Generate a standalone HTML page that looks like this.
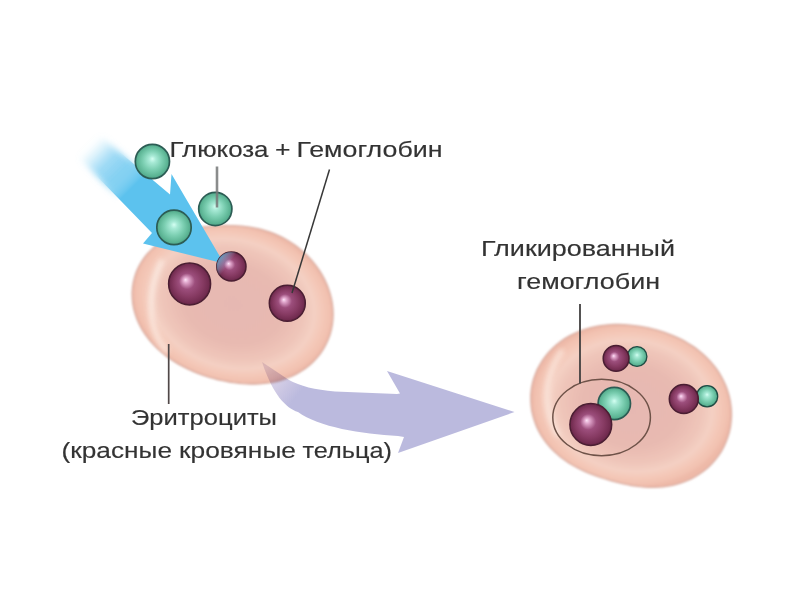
<!DOCTYPE html>
<html><head><meta charset="utf-8">
<style>
html,body{margin:0;padding:0;background:#fff;width:800px;height:600px;overflow:hidden}
svg{display:block}
text{font-family:"Liberation Sans",sans-serif;fill:#333;stroke:#333;stroke-width:0.15px}
</style></head>
<body>
<svg width="800" height="600" viewBox="0 0 800 600">
<defs>
  <radialGradient id="cellGL" gradientUnits="userSpaceOnUse" cx="0" cy="0" r="1" gradientTransform="translate(233.1 303.8) rotate(15.5) scale(102 78.6)">
    <stop offset="0" stop-color="#e6b8b2"/>
    <stop offset="0.5" stop-color="#e8bab1"/>
    <stop offset="0.7" stop-color="#efc5b9"/>
    <stop offset="0.81" stop-color="#f4d0c3"/>
    <stop offset="0.89" stop-color="#f4c8b8"/>
    <stop offset="0.96" stop-color="#f2c1b0"/>
    <stop offset="1" stop-color="#eeb9a8"/>
  </radialGradient>
  <radialGradient id="cellGR" gradientUnits="userSpaceOnUse" cx="0" cy="0" r="1" gradientTransform="translate(631.5 405.7) rotate(8.3) scale(100 81)">
    <stop offset="0" stop-color="#e6b8b2"/>
    <stop offset="0.5" stop-color="#e8bab1"/>
    <stop offset="0.7" stop-color="#efc5b9"/>
    <stop offset="0.81" stop-color="#f4d0c3"/>
    <stop offset="0.89" stop-color="#f4c8b8"/>
    <stop offset="0.96" stop-color="#f2c1b0"/>
    <stop offset="1" stop-color="#eeb9a8"/>
  </radialGradient>
  <radialGradient id="purG" cx="0.5" cy="0.5" r="0.5" fx="0.4" fy="0.4">
    <stop offset="0" stop-color="#fce2f6"/>
    <stop offset="0.13" stop-color="#e0a6cc"/>
    <stop offset="0.38" stop-color="#9c4e7c"/>
    <stop offset="0.7" stop-color="#863a62"/>
    <stop offset="0.92" stop-color="#722c50"/>
    <stop offset="1" stop-color="#602242"/>
  </radialGradient>
  <radialGradient id="grnG" cx="0.5" cy="0.5" r="0.5" fx="0.5" fy="0.42">
    <stop offset="0" stop-color="#d4fff2"/>
    <stop offset="0.2" stop-color="#a8ead6"/>
    <stop offset="0.55" stop-color="#7ccfb2"/>
    <stop offset="0.85" stop-color="#5eb696"/>
    <stop offset="1" stop-color="#4ea688"/>
  </radialGradient>
  <linearGradient id="blueFade" gradientUnits="userSpaceOnUse" x1="118" y1="118" x2="146" y2="146">
    <stop offset="0" stop-color="#a0dcf5" stop-opacity="0"/>
    <stop offset="0.45" stop-color="#7ccdf2" stop-opacity="0.55"/>
    <stop offset="1" stop-color="#5cc2ee" stop-opacity="1"/>
  </linearGradient>
  <linearGradient id="lavG" gradientUnits="userSpaceOnUse" x1="262" y1="362" x2="300" y2="392">
    <stop offset="0" stop-color="#c8b8d8" stop-opacity="0.4"/>
    <stop offset="1" stop-color="#bbbade" stop-opacity="1"/>
  </linearGradient>
  <linearGradient id="tipG" gradientUnits="userSpaceOnUse" x1="218" y1="256" x2="229" y2="264">
    <stop offset="0" stop-color="#5cc8f4" stop-opacity="0.85"/>
    <stop offset="0.5" stop-color="#80c8e8" stop-opacity="0.45"/>
    <stop offset="1" stop-color="#a0c8e8" stop-opacity="0"/>
  </linearGradient>
  <filter id="blurB" x="-20%" y="-20%" width="140%" height="140%"><feGaussianBlur stdDeviation="3"/></filter>
  <linearGradient id="mgF" gradientUnits="userSpaceOnUse" x1="135" y1="135" x2="160" y2="160">
    <stop offset="0" stop-color="#fff" stop-opacity="0"/><stop offset="1" stop-color="#fff" stop-opacity="1"/>
  </linearGradient>
  <linearGradient id="mgB" gradientUnits="userSpaceOnUse" x1="135" y1="135" x2="160" y2="160">
    <stop offset="0" stop-color="#fff" stop-opacity="1"/><stop offset="1" stop-color="#fff" stop-opacity="0"/>
  </linearGradient>
  <mask id="mFront" maskUnits="userSpaceOnUse" x="0" y="0" width="800" height="600"><rect width="800" height="600" fill="url(#mgF)"/></mask>
  <mask id="mBack" maskUnits="userSpaceOnUse" x="0" y="0" width="800" height="600"><rect width="800" height="600" fill="url(#mgB)"/></mask>
  <filter id="blurS" x="-50%" y="-20%" width="200%" height="140%"><feGaussianBlur stdDeviation="2.4"/></filter>
  <filter id="soft" x="-10%" y="-10%" width="120%" height="120%"><feGaussianBlur stdDeviation="0.9"/></filter>
  <filter id="soft2" x="-10%" y="-10%" width="120%" height="120%"><feGaussianBlur stdDeviation="0.5"/></filter>
</defs>
<rect width="800" height="600" fill="#fff"/>

<!-- left cell -->
<path d="M132.8 303.7 L132.3 298.4 L132.1 293.1 L132.5 287.7 L133.3 282.4 L134.6 277.2 L136.3 272.1 L138.4 267.2 L141.0 262.5 L143.9 258.1 L147.2 253.9 L150.9 250.1 L154.7 246.5 L158.8 243.3 L163.1 240.4 L167.6 237.8 L172.1 235.5 L176.7 233.5 L181.3 231.9 L185.9 230.4 L190.5 229.2 L195.1 228.3 L199.6 227.5 L204.0 226.8 L208.4 226.4 L212.7 226.0 L216.9 225.7 L221.1 225.6 L225.3 225.5 L229.4 225.6 L233.5 225.7 L237.6 225.9 L241.7 226.2 L245.7 226.7 L249.8 227.2 L253.8 227.9 L257.9 228.7 L261.9 229.7 L266.0 230.9 L270.0 232.2 L274.0 233.7 L277.9 235.4 L281.8 237.2 L285.7 239.3 L289.5 241.5 L293.3 244.0 L296.9 246.6 L300.5 249.5 L304.0 252.5 L307.4 255.8 L310.7 259.2 L313.8 262.8 L316.7 266.7 L319.5 270.7 L322.1 274.9 L324.5 279.4 L326.7 283.9 L328.5 288.7 L330.1 293.6 L331.4 298.6 L332.3 303.7 L332.9 308.9 L333.1 314.2 L332.9 319.5 L332.3 324.7 L331.3 329.9 L329.9 335.0 L328.0 340.0 L325.8 344.8 L323.2 349.4 L320.2 353.8 L316.9 357.9 L313.3 361.7 L309.5 365.2 L305.4 368.4 L301.1 371.3 L296.7 373.9 L292.1 376.1 L287.5 378.0 L282.8 379.7 L278.1 381.0 L273.4 382.1 L268.8 382.9 L264.1 383.4 L259.5 383.8 L255.0 384.0 L250.6 384.0 L246.2 383.8 L241.9 383.6 L237.7 383.1 L233.5 382.6 L229.4 382.0 L225.4 381.2 L221.4 380.4 L217.4 379.5 L213.5 378.4 L209.6 377.3 L205.7 376.1 L201.9 374.8 L198.0 373.4 L194.2 371.8 L190.4 370.2 L186.6 368.4 L182.8 366.4 L178.9 364.4 L175.2 362.1 L171.4 359.7 L167.7 357.1 L164.0 354.3 L160.4 351.3 L156.8 348.0 L153.4 344.6 L150.1 340.9 L147.0 336.9 L144.1 332.8 L141.4 328.4 L139.0 323.8 L136.9 319.0 L135.2 314.1 L133.8 309.0 Z" fill="url(#cellGL)" stroke="#d8ab9f" stroke-width="1.3" filter="url(#soft)"/>
<!-- right cell -->
<path d="M531.1 405.6 L530.8 400.3 L530.8 395.0 L531.3 389.7 L532.2 384.4 L533.5 379.3 L535.3 374.2 L537.3 369.4 L539.8 364.7 L542.6 360.2 L545.7 355.9 L549.0 351.9 L552.7 348.2 L556.5 344.7 L560.6 341.5 L564.8 338.6 L569.1 336.1 L573.6 333.8 L578.1 331.8 L582.7 330.0 L587.3 328.6 L591.9 327.4 L596.5 326.4 L601.1 325.6 L605.6 325.1 L610.1 324.7 L614.5 324.5 L618.9 324.5 L623.2 324.6 L627.5 324.9 L631.8 325.3 L635.9 325.8 L640.1 326.4 L644.2 327.1 L648.3 327.9 L652.3 328.9 L656.3 329.9 L660.4 331.1 L664.4 332.4 L668.3 333.8 L672.3 335.4 L676.3 337.1 L680.2 338.9 L684.1 340.9 L688.0 343.2 L691.8 345.6 L695.6 348.1 L699.2 350.9 L702.8 354.0 L706.3 357.2 L709.7 360.6 L712.9 364.3 L715.9 368.1 L718.7 372.2 L721.3 376.5 L723.6 381.0 L725.7 385.6 L727.5 390.4 L729.0 395.4 L730.1 400.4 L730.9 405.6 L731.4 410.8 L731.5 416.1 L731.1 421.3 L730.5 426.6 L729.4 431.8 L727.9 436.8 L726.1 441.8 L723.9 446.6 L721.4 451.3 L718.5 455.7 L715.3 459.8 L711.8 463.8 L708.1 467.4 L704.1 470.7 L699.9 473.8 L695.6 476.5 L691.1 478.9 L686.5 481.0 L681.9 482.7 L677.1 484.2 L672.4 485.4 L667.7 486.2 L662.9 486.9 L658.3 487.2 L653.7 487.4 L649.1 487.3 L644.7 487.1 L640.3 486.7 L636.0 486.1 L631.8 485.5 L627.6 484.7 L623.5 483.8 L619.5 482.9 L615.5 481.9 L611.6 480.8 L607.7 479.7 L603.8 478.5 L599.9 477.2 L596.0 475.8 L592.1 474.4 L588.1 472.8 L584.2 471.1 L580.2 469.2 L576.3 467.2 L572.3 465.0 L568.4 462.6 L564.6 460.0 L560.8 457.2 L557.1 454.1 L553.5 450.8 L550.1 447.2 L546.8 443.4 L543.8 439.4 L541.0 435.1 L538.5 430.6 L536.3 425.9 L534.5 421.0 L533.0 416.0 L531.8 410.8 Z" fill="url(#cellGR)" stroke="#d8ab9f" stroke-width="1.3" filter="url(#soft)"/>

<path d="M161 262 Q148 290 152 320 Q155 338 166 350" fill="none" stroke="#fff8f2" stroke-width="6" stroke-linecap="round" opacity="0.55" filter="url(#blurS)"/>
<path d="M561 352 Q545 376 547 402 Q549 420 557 434" fill="none" stroke="#fff8f2" stroke-width="6" stroke-linecap="round" opacity="0.5" filter="url(#blurS)"/>

<!-- lavender arrow -->
<path d="M262 362 L289 380 Q305 389 335 391.5 L397 394 L400 393.5 L387 371 L514.5 412 L398 453 L404 437 L398 436 C362 434 318 427 298 412 C286 408 273 395 262 362 Z" fill="url(#lavG)" style="mix-blend-mode:multiply" filter="url(#soft2)"/>

<!-- blue arrow -->
<path d="M56 134 L84 122 L170 194.5 L171.5 174 L224 263.5 L143 243.5 L152 233 Z" fill="url(#blueFade)" filter="url(#blurB)" mask="url(#mBack)"/>
<path d="M56 134 L84 122 L170 194.5 L171.5 174 L224 263.5 L143 243.5 L152 233 Z" fill="url(#blueFade)" filter="url(#soft2)" mask="url(#mFront)"/>

<!-- left balls -->
<circle cx="189.6" cy="283.9" r="21" fill="url(#purG)" stroke="#4a1e32" stroke-width="1.5"/>
<circle cx="231.4" cy="266.5" r="14.6" fill="url(#purG)" stroke="#4a1e32" stroke-width="1.5"/>
<circle cx="231.4" cy="266.5" r="14.6" fill="url(#tipG)"/>
<circle cx="287.3" cy="303.2" r="18" fill="url(#purG)" stroke="#4a1e32" stroke-width="1.5"/>
<circle cx="152.4" cy="161.5" r="17.1" fill="url(#grnG)" stroke="#2c5c54" stroke-width="1.7"/>
<circle cx="215.3" cy="209" r="16.6" fill="url(#grnG)" stroke="#2c5c54" stroke-width="1.7"/>
<circle cx="174" cy="227.4" r="17.2" fill="url(#grnG)" stroke="#2c5c54" stroke-width="1.7"/>

<!-- right balls -->
<ellipse cx="601.6" cy="417.5" rx="48.8" ry="38.2" fill="none" stroke="#6e5248" stroke-width="1.5"/>
<circle cx="614.3" cy="403.5" r="16.2" fill="url(#grnG)" stroke="#2c5c54" stroke-width="1.7"/>
<circle cx="590.8" cy="424.5" r="20.9" fill="url(#purG)" stroke="#4a1e32" stroke-width="1.5"/>
<circle cx="637" cy="356.5" r="9.9" fill="url(#grnG)" stroke="#1f4c44" stroke-width="1.3"/>
<circle cx="616.1" cy="358.4" r="12.9" fill="url(#purG)" stroke="#4a1e32" stroke-width="1.5"/>
<circle cx="707.1" cy="396.2" r="10.6" fill="url(#grnG)" stroke="#1f4c44" stroke-width="1.3"/>
<circle cx="683.8" cy="399" r="14.5" fill="url(#purG)" stroke="#4a1e32" stroke-width="1.5"/>

<!-- leader lines -->
<line x1="217" y1="166.5" x2="217" y2="207.5" stroke="#767878" stroke-width="2.6" opacity="0.85"/>
<line x1="329.5" y1="169.5" x2="292" y2="293" stroke="#383838" stroke-width="1.5"/>
<line x1="168.7" y1="344" x2="168.7" y2="404" stroke="#504848" stroke-width="1.7"/>
<line x1="580" y1="304" x2="580" y2="383.5" stroke="#424040" stroke-width="1.8"/>

<!-- text -->
<text x="169.5" y="157" font-size="22" textLength="99" lengthAdjust="spacingAndGlyphs">Глюкоза</text>
<text x="275" y="157" font-size="22" textLength="15.5" lengthAdjust="spacingAndGlyphs">+</text>
<text x="296.5" y="157" font-size="22" textLength="146" lengthAdjust="spacingAndGlyphs">Гемоглобин</text>
<text x="481" y="256" font-size="22" textLength="194" lengthAdjust="spacingAndGlyphs">Гликированный</text>
<text x="517" y="289" font-size="22" textLength="143" lengthAdjust="spacingAndGlyphs">гемоглобин</text>
<text x="131" y="425" font-size="22.5" textLength="146" lengthAdjust="spacingAndGlyphs">Эритроциты</text>
<text x="61.5" y="457.5" font-size="22.5" textLength="110.5" lengthAdjust="spacingAndGlyphs">(красные</text>
<text x="179" y="457.5" font-size="22.5" textLength="117" lengthAdjust="spacingAndGlyphs">кровяные</text>
<text x="302.5" y="457.5" font-size="22.5" textLength="89.5" lengthAdjust="spacingAndGlyphs">тельца)</text>
</svg>
</body></html>
